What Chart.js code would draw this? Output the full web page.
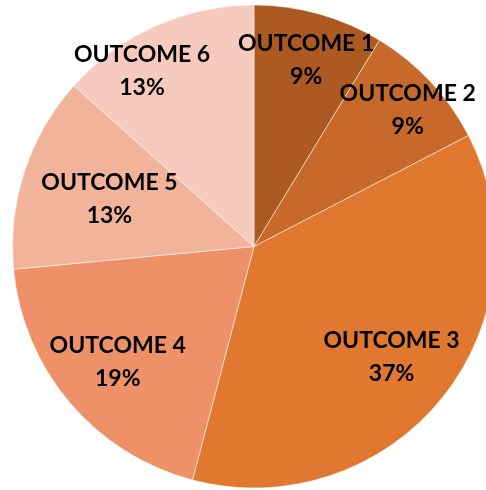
<!DOCTYPE html>
<html>
<head>
<meta charset="utf-8">
<script src="https://cdn.jsdelivr.net/npm/chart.js@4.4.1/dist/chart.umd.min.js"></script>
<style>
  html, body { margin: 0; padding: 0; background: #ffffff; overflow: hidden; width: 486px; height: 490px; }
  #wrap { position: absolute; left: 0; top: 0; width: 508px; height: 490px; }
</style>
</head>
<body>
<div id="wrap"><canvas id="c"></canvas></div>
<script>
const categories = ["OUTCOME 1", "OUTCOME 2", "OUTCOME 3", "OUTCOME 4", "OUTCOME 5", "OUTCOME 6"];
const shares = [8.7, 8.7, 36.7, 19.4, 13.1, 13.4];
const sliceColors = ["#AD5A22", "#C6692B", "#E07830", "#EE9168", "#F1B49B", "#F6CBBE"];
// label placement: fraction of radius along the slice's mid-angle, plus an angle tweak (degrees)
const labelRadius = [0.80, 0.85, 0.73, 0.74, 0.63, 0.86];
const labelAngleShift = [0, 1.5, 0, 0, 0, -8.5];

const labelPlugin = {
  id: 'sliceLabels',
  afterDatasetsDraw(chart) {
    const ctx = chart.ctx;
    const meta = chart.getDatasetMeta(0);
    const data = chart.data.datasets[0].data;
    const total = data.reduce((a, b) => a + b, 0);
    ctx.save();
    ctx.fillStyle = '#000000';
    ctx.textAlign = 'center';
    ctx.textBaseline = 'middle';
    ctx.font = 'bold 23px Lato, "Open Sans", sans-serif';
    meta.data.forEach((arc, i) => {
      const p = arc.getProps(['x', 'y', 'startAngle', 'endAngle', 'outerRadius'], true);
      const mid = (p.startAngle + p.endAngle) / 2 + labelAngleShift[i] * Math.PI / 180;
      const r = p.outerRadius * labelRadius[i];
      const cx = p.x + Math.cos(mid) * r;
      const cy = p.y + Math.sin(mid) * r;
      const pct = Math.round(data[i] / total * 100) + '%';
      ctx.fillText(chart.data.labels[i], cx, cy - 16.5);
      ctx.fillText(pct, cx, cy + 16.5);
    });
    ctx.restore();
  }
};

new Chart(document.getElementById('c'), {
  type: 'pie',
  data: {
    labels: categories,
    datasets: [{
      data: shares,
      backgroundColor: sliceColors,
      borderColor: 'rgba(255,255,255,0.5)',
      borderWidth: 1
    }]
  },
  options: {
    responsive: true,
    maintainAspectRatio: false,
    animation: false,
    layout: { padding: { top: 4, bottom: 1, left: 12, right: 12 } },
    plugins: {
      legend: { display: false },
      tooltip: { enabled: false },
      title: { display: false }
    }
  },
  plugins: [labelPlugin]
});
</script>
</body>
</html>
